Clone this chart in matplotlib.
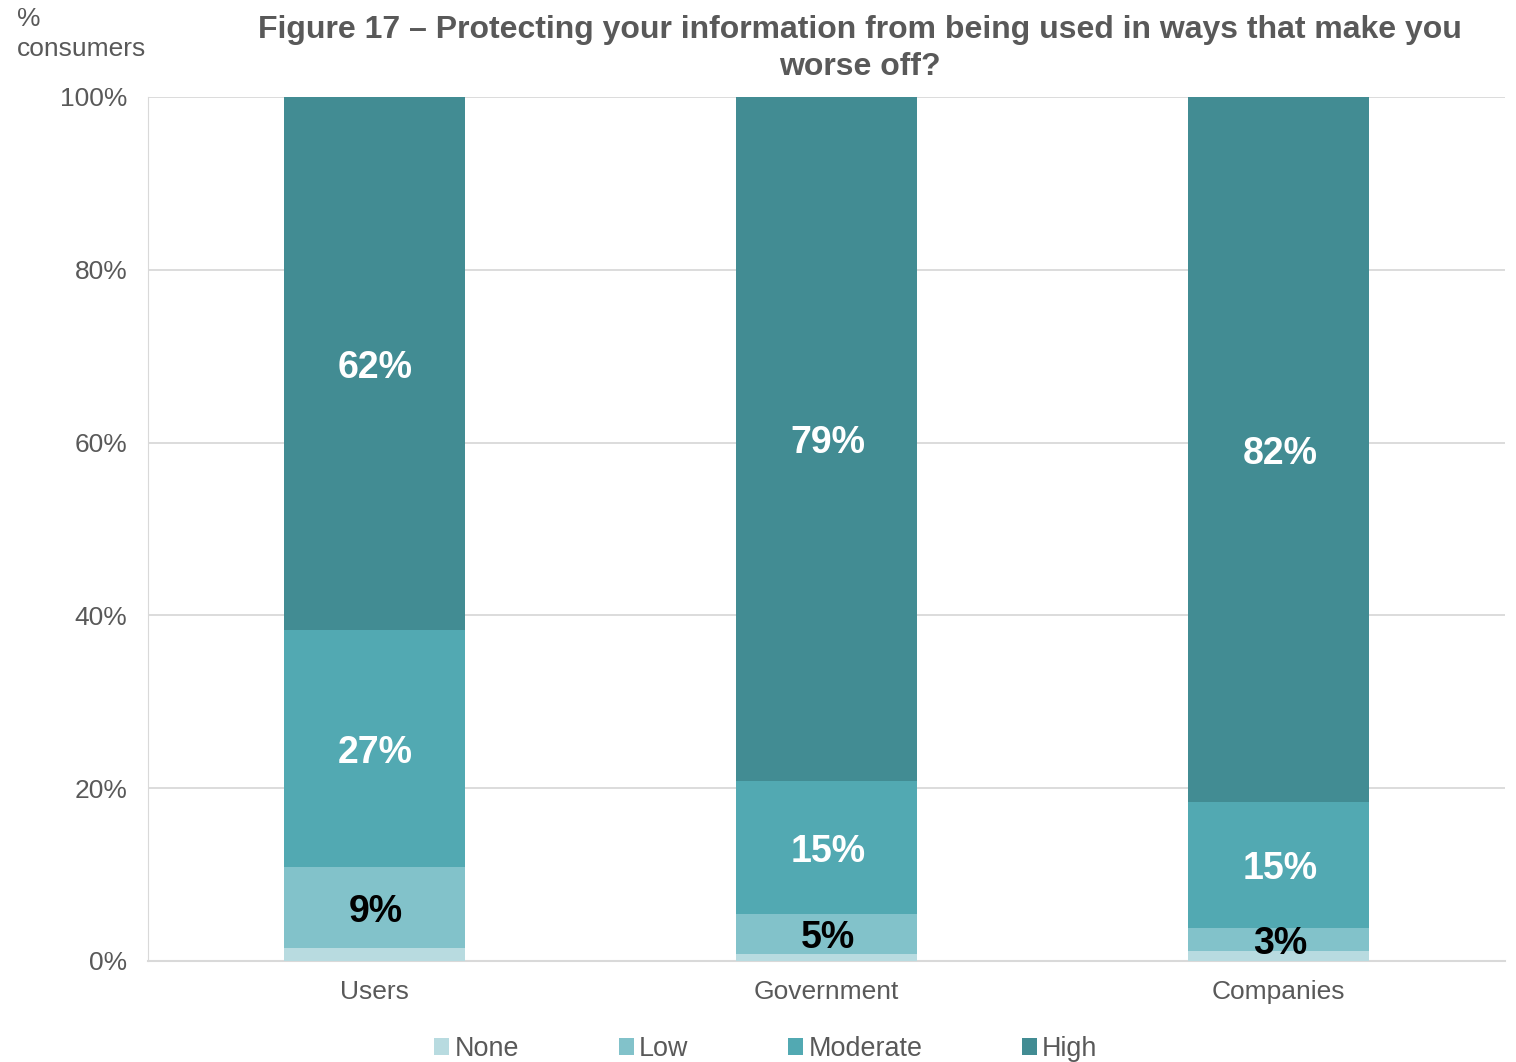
import matplotlib
matplotlib.use("Agg")
import matplotlib.pyplot as plt
import numpy as np

categories = ["Users", "Government", "Companies"]
series_names = ["None", "Low", "Moderate", "High"]
none_vals = [1.5, 0.8, 1.2]
low_vals = [9.4, 4.6, 2.6]
moderate_vals = [27.4, 15.4, 14.6]
high_vals = [61.7, 79.2, 81.6]
yticks = [0, 20, 40, 60, 80, 100]
ytick_labels = ["0%", "20%", "40%", "60%", "80%", "100%"]

colors = ["#B8DBE0", "#82C2CA", "#52A9B2", "#428C93"]
label_colors = [None, "black", "white", "white"]

plt.rcParams['font.family'] = ['Liberation Sans', 'DejaVu Sans']

fig = plt.figure(figsize=(15.16, 10.62), dpi=100)
ax = fig.add_axes([148/1516, 1-961/1062, (1505-148)/1516, (961-97)/1062])

x = np.arange(len(categories))
bottom = np.zeros(len(categories))
all_series = [none_vals, low_vals, moderate_vals, high_vals]
for name, vals, col, lc in zip(series_names, all_series, colors, label_colors):
    vals = np.array(vals)
    ax.bar(x, vals, 0.4, bottom=bottom, color=col, label=name, zorder=3)
    if lc is not None:
        for xi, b, v in zip(x, bottom, vals):
            ax.annotate(f"{round(v):.0f}%", (xi, b + v/2), xytext=(1, -3),
                        textcoords='offset points', ha='center', va='center',
                        color=lc, fontsize=27, fontweight='bold', zorder=4)
    bottom = bottom + vals

ax.set_xlim(-0.5, 2.5)
ax.set_ylim(0, 100)
ax.set_yticks(yticks)
ax.set_yticklabels(ytick_labels)
ax.set_xticks(x)
ax.set_xticklabels(categories)
ax.tick_params(axis='both', length=0, labelsize=19, colors='#595959')
ax.tick_params(axis='y', pad=15)
ax.tick_params(axis='x', pad=14)
ax.grid(axis='y', color='#D9D9D9', linewidth=1.3, zorder=0)
for s in ['top', 'right']:
    ax.spines[s].set_visible(False)
ax.spines['left'].set_color('#D9D9D9')
ax.spines['bottom'].set_color('#D9D9D9')
ax.spines['bottom'].set_linewidth(1.5)

fig.text(860/1516, 1-48.5/1062, "Figure 17 – Protecting your information from being used in ways that make you\nworse off?",
         ha='center', va='center', fontsize=23, fontweight='bold', color='#595959', linespacing=1.3)
fig.text(17/1516, 1-34/1062, "%\nconsumers", ha='left', va='center', fontsize=19, color='#595959', linespacing=1.28)

leg = fig.legend(loc='center', bbox_to_anchor=(766/1516, 1-1049/1062), ncol=4, frameon=False,
                 fontsize=19.4, handlelength=0.55, handleheight=0.55, handletextpad=0.2,
                 columnspacing=3.7, labelcolor='#595959')

fig.savefig("out.png", dpi=100)
